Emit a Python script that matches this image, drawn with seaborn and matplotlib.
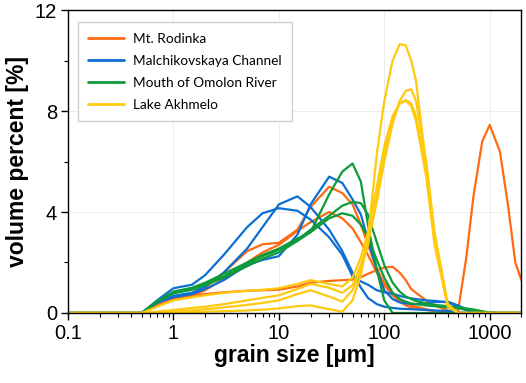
import numpy as np
import pandas as pd
import matplotlib
matplotlib.use("Agg")
import matplotlib.pyplot as plt
from matplotlib.ticker import LogLocator, MultipleLocator, FuncFormatter, NullFormatter
import seaborn as sns

# ---------------------------------------------------------------
# data (grain size in um, volume percent)
# ---------------------------------------------------------------
sizes = [0.1, 0.4, 0.5, 0.7, 1, 1.5, 2, 3, 5, 7, 10, 15, 20, 30, 40, 50, 60, 70, 85,
         100, 120, 140, 160, 180, 200, 250, 300, 400, 500, 600, 700, 850, 1000,
         1250, 1500, 1750, 2000]

sites = ["Mt. Rodinka", "Malchikovskaya Channel", "Mouth of Omolon River", "Lake Akhmelo"]
colors = ["#FF6A13", "#0B6FD3", "#0E9B3A", "#FFC90E"]

# Mt. Rodinka
rod_a = [0, 0, 0, 0.3, 0.58, 0.7, 1.0, 1.6, 2.45, 2.72, 2.78, 3.3, 4.2, 5.0, 4.75, 4.3, 3.5, 2.7, 1.75,
         1.2, 0.8, 0.55, 0.4, 0.3, 0.25, 0.15, 0.08, 0.02, 0, 0, 0, 0, 0, 0, 0, 0, 0]
rod_b = [0, 0, 0, 0.3, 0.55, 0.68, 0.9, 1.35, 2.0, 2.4, 2.7, 3.25, 3.6, 4.0, 3.75, 3.35, 2.8, 2.3, 1.6,
         1.1, 0.7, 0.45, 0.3, 0.22, 0.18, 0.12, 0.08, 0.03, 0, 0, 0, 0, 0, 0, 0, 0, 0]
rod_c = [0, 0, 0, 0.3, 0.55, 0.68, 0.75, 0.82, 0.88, 0.9, 0.92, 1.05, 1.2, 1.27, 1.3, 1.32, 1.42, 1.55, 1.7,
         1.8, 1.83, 1.6, 1.3, 0.95, 0.8, 0.5, 0.3, 0.1, 0.05, 2.2, 4.6, 6.8, 7.45,
         6.4, 4.2, 2.0, 1.3]

# Malchikovskaya Channel
mal_a = [0, 0, 0, 0.5, 0.98, 1.12, 1.5, 2.3, 3.4, 3.95, 4.15, 4.05, 3.7, 3.0, 2.3, 1.45, 1.25, 1.12, 0.9,
         0.82, 0.76, 0.68, 0.62, 0.58, 0.55, 0.5, 0.48, 0.42, 0.25, 0.1, 0.02, 0, 0, 0, 0, 0, 0]
mal_b = [0, 0, 0, 0.4, 0.68, 0.8, 1.05, 1.6, 2.55, 3.4, 4.3, 4.62, 4.2, 3.3, 2.45, 1.6, 1.0, 0.6, 0.35,
         0.25, 0.2, 0.17, 0.16, 0.15, 0.14, 0.12, 0.1, 0.08, 0.03, 0, 0, 0, 0, 0, 0, 0, 0]
mal_c = [0, 0, 0, 0.42, 0.62, 0.75, 0.95, 1.3, 1.9, 2.1, 2.25, 3.1, 4.3, 5.4, 5.15, 4.5, 3.9, 2.9, 1.7,
         0.9, 0.55, 0.42, 0.38, 0.36, 0.35, 0.38, 0.43, 0.45, 0.3, 0.15, 0.05, 0, 0, 0, 0, 0, 0]

# Mouth of Omolon River
omo_a = [0, 0, 0, 0.45, 0.85, 1.0, 1.2, 1.55, 2.0, 2.3, 2.55, 2.95, 3.2, 4.7, 5.6, 5.92, 5.2, 3.5, 1.7,
         0.5, 0, 0, 0, 0, 0, 0, 0, 0, 0, 0, 0, 0, 0, 0, 0, 0, 0]
omo_b = [0, 0, 0, 0.45, 0.8, 0.95, 1.15, 1.45, 1.95, 2.25, 2.5, 2.9, 3.3, 3.85, 4.25, 4.4, 4.35, 3.9, 2.8,
         1.9, 1.2, 0.85, 0.65, 0.55, 0.47, 0.38, 0.32, 0.27, 0.22, 0.18, 0.14, 0.07, 0.02, 0, 0, 0, 0]
omo_c = [0, 0, 0, 0.45, 0.78, 0.92, 1.1, 1.4, 1.85, 2.15, 2.4, 2.85, 3.2, 3.75, 3.95, 3.85, 3.5, 3.0, 2.1,
         1.4, 0.8, 0.55, 0.45, 0.38, 0.35, 0.3, 0.27, 0.22, 0.18, 0.14, 0.1, 0.05, 0.01, 0, 0, 0, 0]

# Lake Akhmelo
akh_a = [0, 0, 0, 0.25, 0.5, 0.62, 0.7, 0.8, 0.88, 0.92, 0.98, 1.15, 1.3, 1.15, 1.05, 1.4, 2.2, 3.2, 5.0,
         6.6, 7.8, 8.3, 8.4, 8.2, 7.6, 5.4, 2.7, 0.25, 0, 0, 0, 0, 0, 0, 0, 0, 0]
akh_b = [0, 0, 0, 0.05, 0.12, 0.2, 0.25, 0.35, 0.5, 0.6, 0.7, 0.95, 1.15, 1.0, 0.8, 1.1, 1.9, 2.8, 4.4,
         6.0, 7.5, 8.4, 8.8, 8.86, 8.4, 6.0, 3.2, 0.35, 0, 0, 0, 0, 0, 0, 0, 0, 0]
akh_c = [0, 0, 0, 0.02, 0.05, 0.1, 0.15, 0.22, 0.32, 0.4, 0.5, 0.75, 0.9, 0.65, 0.45, 0.9, 1.7, 2.7, 4.6,
         6.3, 7.7, 8.3, 8.44, 8.3, 7.8, 5.6, 2.9, 0.3, 0, 0, 0, 0, 0, 0, 0, 0, 0]
akh_d = [0, 0, 0, 0, 0.03, 0.04, 0.05, 0.07, 0.1, 0.13, 0.18, 0.27, 0.3, 0.15, 0.05, 0.5, 1.5, 3.0, 6.3,
         8.4, 10.0, 10.65, 10.6, 10.0, 9.2, 5.8, 3.0, 0.3, 0, 0, 0, 0, 0, 0, 0, 0, 0]

samples = {
    "Mt. Rodinka": [rod_a, rod_b, rod_c],
    "Malchikovskaya Channel": [mal_a, mal_b, mal_c],
    "Mouth of Omolon River": [omo_a, omo_b, omo_c],
    "Lake Akhmelo": [akh_a, akh_b, akh_c, akh_d],
}

rows = []
for site, curves in samples.items():
    for k, vals in enumerate(curves):
        for s, v in zip(sizes, vals):
            rows.append({"site": site, "sample": f"{site}_{k}", "size": s, "vol": v})
df = pd.DataFrame(rows)

# ---------------------------------------------------------------
# plot
# ---------------------------------------------------------------
sns.set_style("ticks")
plt.rcParams["font.family"] = ["Liberation Sans", "DejaVu Sans"]
plt.rcParams["text.color"] = "black"
plt.rcParams["axes.labelcolor"] = "black"
plt.rcParams["xtick.color"] = "black"
plt.rcParams["ytick.color"] = "black"

fig = plt.figure(figsize=(5.26, 3.83), dpi=100)
ax = fig.add_axes([0.1293, 0.1828, 0.862, 0.791])

sns.lineplot(data=df, x="size", y="vol", hue="site", units="sample", estimator=None,
             hue_order=sites, palette=colors, sort=False, linewidth=1.6, ax=ax)

ax.set_xscale("log")
ax.set_xlim(0.1, 2000)
ax.set_ylim(0, 12)

ax.xaxis.set_major_locator(LogLocator(base=10, numticks=10))
ax.xaxis.set_minor_locator(LogLocator(base=10, subs=np.arange(2, 10), numticks=20))
ax.xaxis.set_major_formatter(FuncFormatter(lambda v, p: f"{v:g}"))
ax.xaxis.set_minor_formatter(NullFormatter())
ax.yaxis.set_major_locator(MultipleLocator(4))
ax.yaxis.set_minor_locator(MultipleLocator(2))

ax.grid(True, which="major", color="#ececec", linewidth=0.7)
ax.set_axisbelow(True)
for sp in ax.spines.values():
    sp.set_color("black")
    sp.set_linewidth(1.0)

ax.tick_params(axis="both", which="major", direction="out", length=5, width=1,
               labelsize=14.5, pad=3, colors="black")
ax.tick_params(axis="both", which="minor", direction="out", length=3, width=0.8, colors="black")

ax.set_xlabel("grain size [µm]", fontsize=16.5, fontweight="bold", labelpad=1, color="black")
ax.set_ylabel("volume percent [%]", fontsize=16.5, fontweight="bold", labelpad=4, color="black")

sns.move_legend(ax, loc="upper left", bbox_to_anchor=(0.006, 0.982), title=None,
                frameon=True, fancybox=False, edgecolor="#d0d0d0", framealpha=1,
                prop={"family": "Lato", "size": 9.8}, handlelength=2.6,
                handletextpad=0.65, labelspacing=0.72, borderpad=0.8)
leg = ax.get_legend()
leg.get_frame().set_linewidth(1.0)
for h in leg.legend_handles:
    h.set_linewidth(2.0)
for t in leg.get_texts():
    t.set_color("black")

fig.savefig("out.png", dpi=100)
